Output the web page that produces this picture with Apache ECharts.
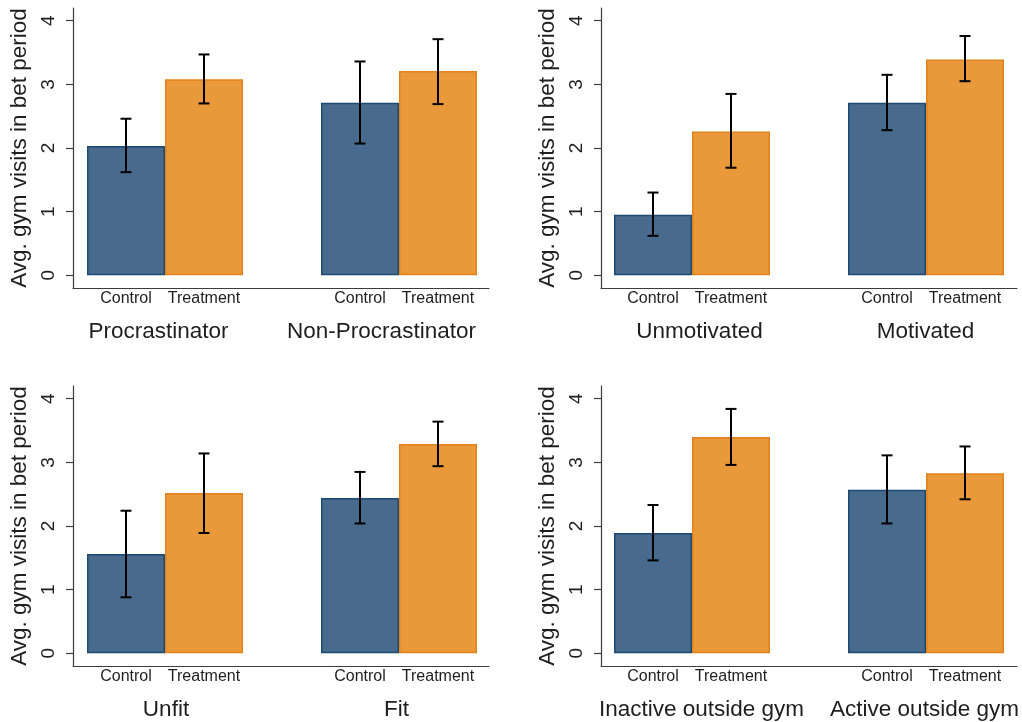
<!DOCTYPE html>
<html>
<head>
<meta charset="utf-8">
<script src="https://cdn.jsdelivr.net/npm/echarts@6/dist/echarts.min.js"></script>
<style>
  html, body { margin: 0; padding: 0; background: #ffffff; }
  #chart { width: 1022px; height: 722px; }
</style>
</head>
<body>
<div id="chart"></div>
<script>
// Arms shown under each bar
const armLabels = ['Control', 'Treatment'];

// Subgroup names, two per panel
const panelGroups = [
  ['Procrastinator', 'Non-Procrastinator'],
  ['Unmotivated', 'Motivated'],
  ['Unfit', 'Fit'],
  ['Inactive outside gym', 'Active outside gym']
];

// Average gym visits in the bet period, per panel: [first subgroup, second subgroup]
const controlMean   = [[2.03, 2.71], [0.95, 2.71], [1.56, 2.44], [1.89, 2.57]];
const treatmentMean = [[3.08, 3.21], [2.26, 3.39], [2.52, 3.29], [3.40, 2.83]];

// Confidence interval bounds
const controlLow    = [[1.62, 2.07], [0.62, 2.28], [0.88, 2.04], [1.46, 2.04]];
const controlHigh   = [[2.46, 3.36], [1.30, 3.15], [2.24, 2.85], [2.33, 3.11]];
const treatmentLow  = [[2.70, 2.69], [1.69, 3.05], [1.89, 2.94], [2.96, 2.42]];
const treatmentHigh = [[3.47, 3.71], [2.85, 3.76], [3.14, 3.64], [3.84, 3.25]];

// Y axis ticks
const yTicks = [0, 1, 2, 3, 4];

const yTitle = 'Avg. gym visits in bet period';

// ---- layout ----
const FONT = '"Liberation Sans", Arial, Helvetica, sans-serif';
const TEXT = '#1e1e1e';
const AXIS = '#3c3c3c';
const CONTROL_FILL = '#486b8d', CONTROL_EDGE = '#1d4a72';
const TREAT_FILL = '#e9983a', TREAT_EDGE = '#e2821a';
const Y_MIN = -0.2, Y_MAX = 4.2;

const frameLeft = [73, 601];      // y-axis line position per column
const frameWidth = 416;
const barLeft = [87, 614];        // start of the bar area per column
const barWidthArea = 390;
const rowTop = [8, 386];
const plotHeight = 280;
// horizontal centres of the subgroup captions, per panel
const captionX = [[158.5, 381.5], [699.5, 925.5], [166, 396.5], [701.5, 924.5]];
const captionOffset = 44;         // below the x-axis line

const grid = [], xAxis = [], yAxis = [], series = [], graphic = [];

for (let p = 0; p < 4; p++) {
  const col = p % 2, row = Math.floor(p / 2);
  const top = rowTop[row];
  const gFrame = grid.length;
  grid.push({ left: frameLeft[col], top: top, width: frameWidth, height: plotHeight });
  const gBars = grid.length;
  grid.push({ left: barLeft[col], top: top, width: barWidthArea, height: plotHeight });

  // frame axes: the visible axis lines, ticks and y labels
  xAxis.push({
    gridIndex: gFrame, type: 'value', min: 0, max: 1,
    axisLine: { show: true, onZero: false, lineStyle: { color: AXIS, width: 1.2 } },
    axisTick: { show: false }, axisLabel: { show: false }, splitLine: { show: false }
  });
  yAxis.push({
    gridIndex: gFrame, type: 'value', min: Y_MIN, max: Y_MAX,
    axisLine: { show: true, lineStyle: { color: AXIS, width: 1.2 } },
    axisTick: { show: true, length: 7, customValues: yTicks, lineStyle: { color: AXIS, width: 1.2 } },
    axisLabel: {
      customValues: yTicks, rotate: 90, margin: 15,
      fontSize: 19, fontFamily: FONT, color: TEXT
    },
    splitLine: { show: false },
    name: yTitle, nameLocation: 'middle', nameRotate: 90, nameGap: 42,
    nameTextStyle: { fontSize: 22.5, fontFamily: FONT, color: TEXT }
  });

  // bar axes: category slots (two arms, a spacer, two arms)
  const xIdx = xAxis.length;
  xAxis.push({
    gridIndex: gBars, type: 'category',
    data: [armLabels[0], armLabels[1], '', armLabels[0], armLabels[1]],
    axisLine: { show: false }, axisTick: { show: false },
    axisLabel: { interval: 0, margin: 3, fontSize: 16, fontFamily: FONT, color: TEXT }
  });
  const yIdx = yAxis.length;
  yAxis.push({
    gridIndex: gBars, type: 'value', min: Y_MIN, max: Y_MAX, show: false,
    splitLine: { show: false }
  });

  const ctrl = controlMean[p], trt = treatmentMean[p];
  const barBase = {
    type: 'bar', xAxisIndex: xIdx, yAxisIndex: yIdx,
    barWidth: '100%', barGap: '-100%', silent: true
  };
  series.push(Object.assign({}, barBase, {
    name: armLabels[0],
    data: [ctrl[0], '-', '-', ctrl[1], '-'],
    itemStyle: { color: CONTROL_FILL, borderColor: CONTROL_EDGE, borderWidth: 1.5 }
  }));
  series.push(Object.assign({}, barBase, {
    name: armLabels[1],
    data: ['-', trt[0], '-', '-', trt[1]],
    itemStyle: { color: TREAT_FILL, borderColor: TREAT_EDGE, borderWidth: 1.5 }
  }));

  // confidence intervals: [slot, low, high]
  const ci = [
    [0, controlLow[p][0], controlHigh[p][0]],
    [1, treatmentLow[p][0], treatmentHigh[p][0]],
    [3, controlLow[p][1], controlHigh[p][1]],
    [4, treatmentLow[p][1], treatmentHigh[p][1]]
  ];
  series.push({
    type: 'custom', xAxisIndex: xIdx, yAxisIndex: yIdx, silent: true, z: 5,
    data: ci,
    renderItem: function (params, api) {
      const lo = api.coord([api.value(0), api.value(1)]);
      const hi = api.coord([api.value(0), api.value(2)]);
      const half = 5.5;
      const style = { stroke: '#000000', lineWidth: 2, fill: null };
      return {
        type: 'group',
        children: [
          { type: 'line', shape: { x1: hi[0], y1: hi[1], x2: lo[0], y2: lo[1] }, style: style },
          { type: 'line', shape: { x1: hi[0] - half, y1: hi[1], x2: hi[0] + half, y2: hi[1] }, style: style },
          { type: 'line', shape: { x1: lo[0] - half, y1: lo[1], x2: lo[0] + half, y2: lo[1] }, style: style }
        ]
      };
    }
  });

  // subgroup captions under each pair of bars
  for (let g = 0; g < 2; g++) {
    graphic.push({
      type: 'text', silent: true,
      x: captionX[p][g], y: top + plotHeight + captionOffset,
      style: {
        text: panelGroups[p][g], fontSize: 22.5, fontFamily: FONT, fill: TEXT,
        align: 'center', verticalAlign: 'middle'
      }
    });
  }
}

const chart = echarts.init(document.getElementById('chart'), null, { renderer: 'canvas' });
chart.setOption({
  animation: false,
  backgroundColor: '#ffffff',
  grid: grid, xAxis: xAxis, yAxis: yAxis, series: series, graphic: graphic
});
</script>
</body>
</html>
